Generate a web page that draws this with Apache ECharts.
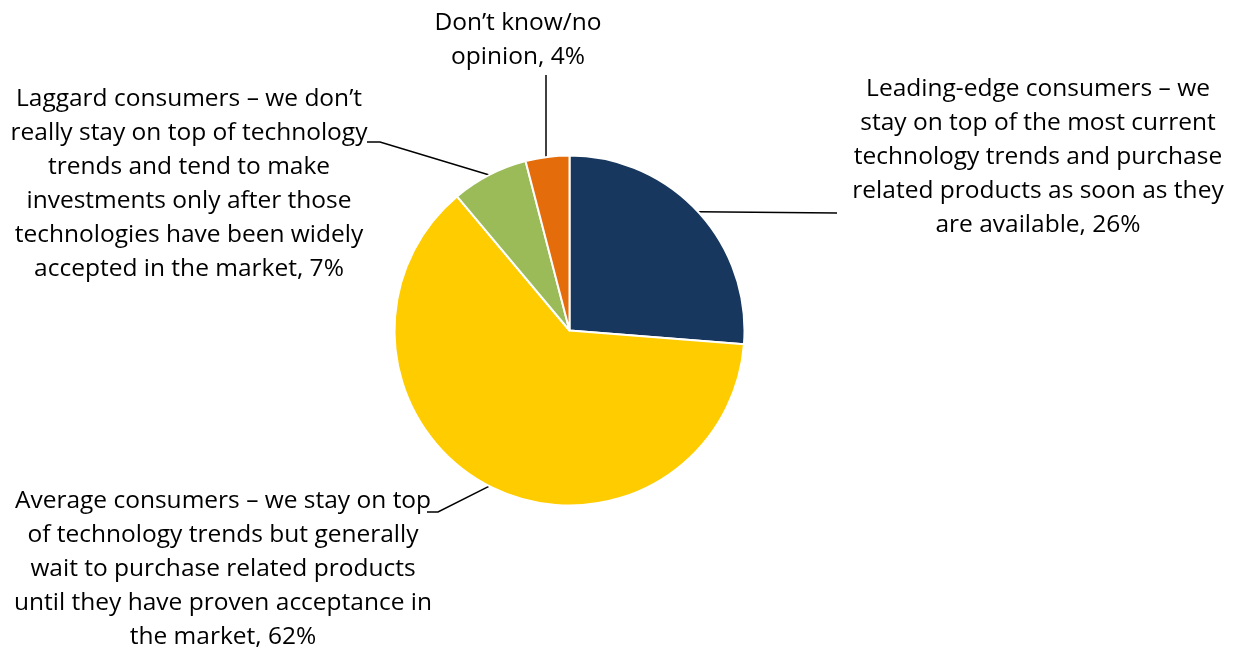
<!DOCTYPE html>
<html>
<head>
<meta charset="utf-8">
<script src="https://cdn.jsdelivr.net/npm/echarts@6/dist/echarts.min.js"></script>
<style>
  html, body { margin: 0; padding: 0; background: #fff; }
  #chart { width: 1236px; height: 649px; }
</style>
</head>
<body>
<div id="chart"></div>
<script>
// Data (clockwise from 12 o'clock)
const categories = [
  'Leading-edge consumers \u2013 we\nstay on top of the most current\ntechnology trends and purchase\nrelated products as soon as they\nare available',
  'Average consumers \u2013 we stay on top\nof technology trends but generally\nwait to purchase related products\nuntil they have proven acceptance in\nthe market',
  'Laggard consumers \u2013 we don\u2019t\nreally stay on top of technology\ntrends and tend to make\ninvestments only after those\ntechnologies have been widely\naccepted in the market',
  'Don\u2019t know/no\nopinion'
];
const values = [26, 62, 7, 4];
const colors = ['#17375E', '#FFCC00', '#9BBB59', '#E46C0A'];

// Label anchor positions (center x, middle y of text block)
const labelPos = [
  { x: 1038, y: 157 },
  { x: 223, y: 569 },
  { x: 189, y: 184 },
  { x: 518, y: 40 }
];
// Leader line bend / end points near each label
const leaderEnds = [
  [[837, 213], [837, 213]],
  [[438, 512], [427, 512]],
  [[380, 142], [367, 142]],
  [[546, 75], [546, 75]]
];

const chart = echarts.init(document.getElementById('chart'), null, { renderer: 'canvas' });

chart.setOption({
  backgroundColor: '#ffffff',
  animation: false,
  series: [{
    type: 'pie',
    center: [569.5, 330.5],
    radius: 175,
    startAngle: 90,
    clockwise: true,
    avoidLabelOverlap: false,
    data: categories.map((c, i) => ({
      name: c,
      value: values[i],
      itemStyle: { color: colors[i] }
    })),
    itemStyle: { borderColor: '#ffffff', borderWidth: 2 },
    label: {
      show: true,
      position: 'outside',
      formatter: p => p.name + ', ' + p.value + '%',
      fontFamily: 'Open Sans',
      fontSize: 24.5,
      lineHeight: 34,
      color: '#000000',
      align: 'center'
    },
    labelLine: {
      show: true,
      length: 20,
      length2: 20,
      lineStyle: { color: '#000000', width: 1.5 }
    },
    labelLayout: function (params) {
      const i = params.dataIndex;
      const p = labelPos[i];
      const start = params.labelLinePoints ? params.labelLinePoints[0] : null;
      const out = { x: p.x, y: p.y, align: 'center', verticalAlign: 'middle', hideOverlap: false };
      if (start) {
        let s = [start[0], start[1]];
        if (i === 3) { s = [leaderEnds[3][0][0], start[1]]; }
        out.labelLinePoints = [s, leaderEnds[i][0], leaderEnds[i][1]];
      }
      return out;
    },
    emphasis: { disabled: true }
  }]
});
</script>
</body>
</html>
